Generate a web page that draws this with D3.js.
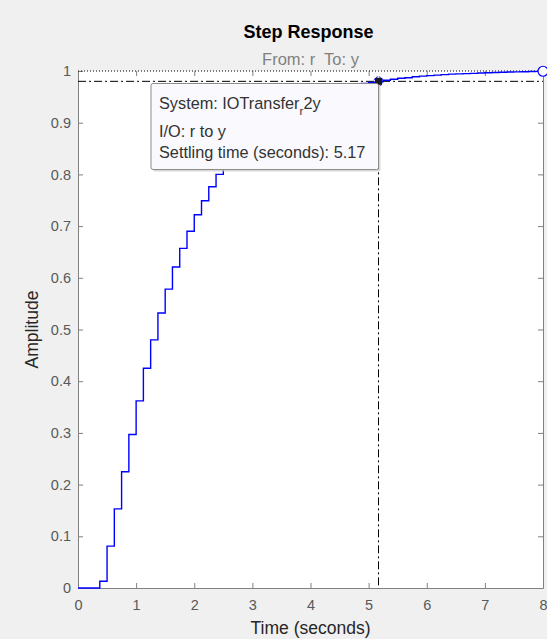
<!DOCTYPE html>
<html>
<head>
<meta charset="utf-8">
<script src="https://cdn.jsdelivr.net/npm/d3@7/dist/d3.min.js"></script>
<style>
  html, body { margin: 0; padding: 0; background: #f0f0f0; }
  svg { display: block; font-family: "Liberation Sans", Arial, Helvetica, sans-serif; }
</style>
</head>
<body>
<svg id="chart" width="547" height="639"></svg>
<script>
// Discrete step response samples (one value per sample period)
const samplePeriod = 0.125;
const amplitude = [
  0, 0, 0, 0.013, 0.081, 0.153, 0.225, 0.297, 0.362, 0.425,
  0.480, 0.532, 0.578, 0.621, 0.657, 0.690, 0.722, 0.749, 0.776, 0.800,
  0.821, 0.840, 0.856, 0.871, 0.884, 0.896, 0.907, 0.916, 0.925, 0.932,
  0.939, 0.945, 0.951, 0.956, 0.960, 0.964, 0.967, 0.971, 0.973, 0.976,
  0.978, 0.980, 0.982, 0.984, 0.986, 0.987, 0.989, 0.990, 0.991, 0.992,
  0.993, 0.994, 0.9945, 0.995, 0.9955, 0.996, 0.9965, 0.997, 0.9975, 0.998,
  0.9983, 0.9986, 0.9989, 0.9992, 0.9995
];
const xTicks = [0, 1, 2, 3, 4, 5, 6, 7, 8];
const yTicks = [0, 0.1, 0.2, 0.3, 0.4, 0.5, 0.6, 0.7, 0.8, 0.9, 1];
const steadyState = 1;
const settlingTime = 5.17;
const settlingBand = 0.98;
const tipLines = ["I/O: r to y", "Settling time (seconds): 5.17"];

const svg = d3.select("#chart");
const m = { left: 78, right: 543, top: 71, bottom: 588 };

const x = d3.scaleLinear().domain([0, 8]).range([m.left, m.right]);
const y = d3.scaleLinear().domain([0, 1]).range([m.bottom, m.top]);

// axes background
svg.append("rect")
  .attr("x", m.left).attr("y", m.top)
  .attr("width", m.right - m.left).attr("height", m.bottom - m.top)
  .attr("fill", "#ffffff");

const axisColor = "#808080";
const labelColor = "#595959";
const tickFont = 14.5;

// bottom axis with inward ticks
const gx = svg.append("g").attr("transform", `translate(0,${m.bottom})`)
  .call(d3.axisBottom(x).tickValues(xTicks).tickFormat(d3.format("d")).tickSizeInner(-5).tickSizeOuter(0).tickPadding(12));
gx.select(".domain").attr("stroke", axisColor);
gx.selectAll(".tick line").attr("stroke", axisColor);
gx.selectAll(".tick text").attr("fill", labelColor).attr("font-size", tickFont).attr("font-family", "Liberation Sans, Arial, sans-serif");

// left axis with inward ticks
const gy = svg.append("g").attr("transform", `translate(${m.left},0)`)
  .call(d3.axisLeft(y).tickValues(yTicks).tickFormat(d => d === 0 || d === 1 ? d3.format("d")(d) : d3.format(".1f")(d)).tickSizeInner(-5).tickSizeOuter(0).tickPadding(7));
gy.select(".domain").attr("stroke", axisColor);
gy.selectAll(".tick line").attr("stroke", axisColor);
gy.selectAll(".tick text").attr("fill", labelColor).attr("font-size", tickFont).attr("font-family", "Liberation Sans, Arial, sans-serif");

// right axis ticks
const gr = svg.append("g").attr("transform", `translate(${m.right},0)`)
  .call(d3.axisRight(y).tickValues(yTicks).tickFormat("").tickSizeInner(-5).tickSizeOuter(0));
gr.select(".domain").attr("stroke", axisColor);
gr.selectAll(".tick line").attr("stroke", axisColor);

// top axis ticks
const gt = svg.append("g").attr("transform", `translate(0,${m.top})`)
  .call(d3.axisTop(x).tickValues(xTicks).tickFormat("").tickSizeInner(-5).tickSizeOuter(0));
gt.select(".domain").remove();
gt.selectAll(".tick line").attr("stroke", axisColor);

// steady-state reference (dotted, along top)
svg.append("line")
  .attr("x1", x(0)).attr("x2", x(8))
  .attr("y1", y(steadyState)).attr("y2", y(steadyState))
  .attr("stroke", "#000").attr("stroke-width", 1).attr("stroke-dasharray", "1,2");

// settling band and settling time lines (dash-dot)
svg.append("line")
  .attr("x1", x(0)).attr("x2", x(8))
  .attr("y1", y(settlingBand)).attr("y2", y(settlingBand))
  .attr("stroke", "#000").attr("stroke-width", 1).attr("stroke-dasharray", "8,3,2,3");
svg.append("line")
  .attr("x1", x(settlingTime)).attr("x2", x(settlingTime))
  .attr("y1", y(settlingBand)).attr("y2", y(0))
  .attr("stroke", "#000").attr("stroke-width", 1).attr("stroke-dasharray", "8,3,2,3");

// step response
const pts = amplitude.map((v, i) => [i * samplePeriod, v]);
svg.append("path")
  .datum(pts)
  .attr("fill", "none")
  .attr("stroke", "#0000ff")
  .attr("stroke-width", 1.4)
  .attr("d", d3.line().x(d => x(d[0])).y(d => y(d[1])).curve(d3.curveStepAfter));

// end marker
svg.append("circle")
  .attr("cx", x(8)).attr("cy", y(amplitude[amplitude.length - 1]))
  .attr("r", 5).attr("fill", "#fff").attr("stroke", "#0000ff").attr("stroke-width", 1.2);

// settling point marker
svg.append("circle")
  .attr("cx", x(settlingTime)).attr("cy", y(settlingBand))
  .attr("r", 4.5).attr("fill", "none").attr("stroke", "#0000ff").attr("stroke-width", 1).attr("stroke-dasharray", "2,1");
svg.append("rect")
  .attr("x", x(settlingTime) - 3.5).attr("y", y(settlingBand) - 3.5)
  .attr("width", 7).attr("height", 7).attr("fill", "#1a1a1a");

// data tip
const tip = svg.append("g");
const tx = 151, ty = 83.5, tw = x(settlingTime) - 151, th = 86;
tip.append("rect")
  .attr("x", tx + 2).attr("y", ty + 2).attr("width", tw).attr("height", th)
  .attr("rx", 2).attr("fill", "#c8c8c8").attr("opacity", 0.7);
tip.append("rect")
  .attr("x", tx).attr("y", ty).attr("width", tw).attr("height", th)
  .attr("rx", 2).attr("fill", "#f9f9fe").attr("stroke", "#8c8c8c").attr("stroke-width", 1);
const tipFont = 16.3;
const t1 = tip.append("text").attr("x", 159).attr("y", 109).attr("font-size", tipFont).attr("fill", "#333");
t1.append("tspan").text("System: IOTransfer");
t1.append("tspan").attr("dy", 6).attr("font-size", 11.5).text("r");
t1.append("tspan").attr("dy", -6).text("2y");
tip.selectAll("text.line").data(tipLines).join("text")
  .attr("class", "line")
  .attr("x", 159).attr("y", (d, i) => 137 + i * 21)
  .attr("font-size", tipFont).attr("fill", "#333").text(d => d);

// titles
svg.append("text").attr("x", (m.left + m.right) / 2 - 2).attr("y", 38)
  .attr("text-anchor", "middle").attr("font-size", 18).attr("font-weight", "bold").attr("fill", "#000")
  .text("Step Response");
svg.append("text").attr("x", (m.left + m.right) / 2).attr("y", 65)
  .attr("text-anchor", "middle").attr("font-size", 16.5).attr("fill", "#808080")
  .attr("xml:space", "preserve").style("white-space", "pre")
  .text("From: r  To: y");
svg.append("text").attr("x", (m.left + m.right) / 2).attr("y", 634)
  .attr("text-anchor", "middle").attr("font-size", 17.5).attr("fill", "#262626")
  .text("Time (seconds)");
svg.append("text").attr("transform", `translate(37.5,${(m.top + m.bottom) / 2}) rotate(-90)`)
  .attr("text-anchor", "middle").attr("font-size", 17.5).attr("fill", "#262626")
  .text("Amplitude");
</script>
</body>
</html>
